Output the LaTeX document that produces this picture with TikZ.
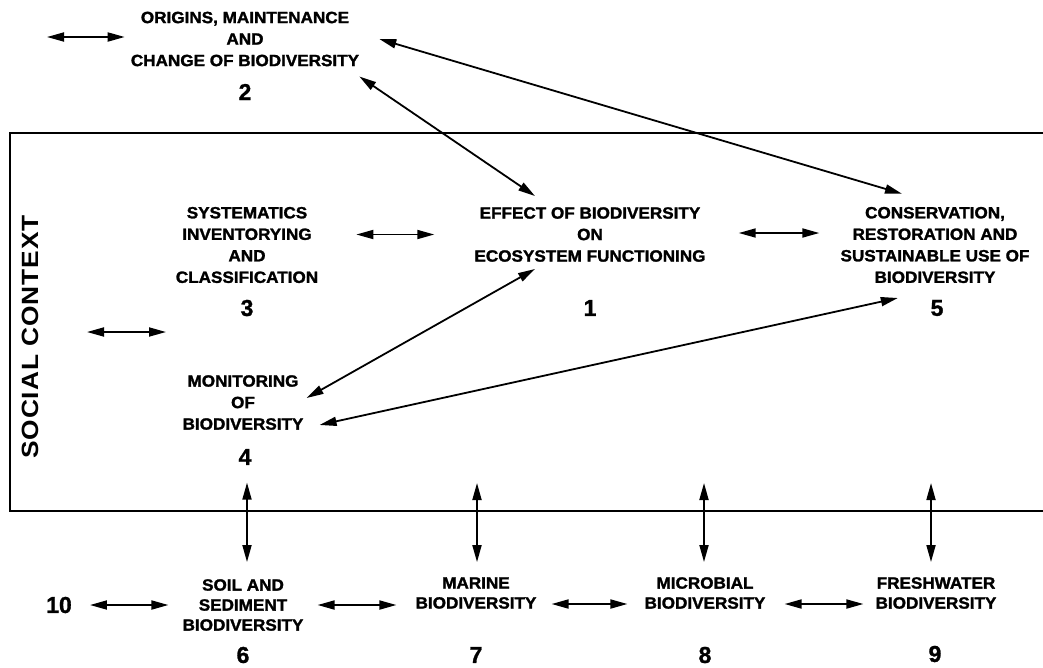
\documentclass[tikz,border=0pt]{standalone}
\usepackage{fontspec}
\usetikzlibrary{arrows.meta,calc}
% label faces: heavy, slightly widened grotesque; plain bold digits; wide side title
\newfontfamily\labelfamily[FakeStretch=1.05,FakeBold=1.6]{Liberation Sans Bold}
\newfontfamily\numfamily[FakeBold=1.2]{Liberation Sans Bold}
\newfontfamily\sidefamily[FakeStretch=1.12,LetterSpace=4]{Liberation Sans Bold}

\tikzset{
  lbl/.style={align=center, inner sep=0pt,
    font={\labelfamily\fontsize{16.3}{21.5}\selectfont}},
  lowlbl/.style={align=center, inner sep=0pt,
    font={\labelfamily\fontsize{16.3}{20}\selectfont}},
  num/.style={inner sep=0pt, font={\numfamily\fontsize{23}{23}\selectfont}},
  sidetitle/.style={inner sep=0pt, rotate=90,
    font={\sidefamily\fontsize{23.5}{23.5}\selectfont}},
  frame/.style={line width=2pt},
  link/.style={line width=1.8pt,
    {Triangle[length=17pt,width=9pt]}-{Triangle[length=17pt,width=9pt]}},
}

\begin{document}
\begin{tikzpicture}[x=1pt,y=-1pt]
\useasboundingbox (0,0) rectangle (1043,667);

% social context frame (open on the right)
\draw[frame] (1050,133) -- (10,133) -- (10,511) -- (1050,511);
\node[sidetitle] (social) at (30,337) {SOCIAL CONTEXT};

% research themes
\node[lbl] (t2) at (245,39) {ORIGINS, MAINTENANCE\\AND\\CHANGE OF BIODIVERSITY};
\node[num] (n2) at (245,92) {2};

\node[lbl] (t3) at (247,245) {SYSTEMATICS\\INVENTORYING\\AND\\CLASSIFICATION};
\node[num] (n3) at (247,308) {3};

\node[lbl] (t1) at (590,234.5) {EFFECT OF BIODIVERSITY\\ON\\ECOSYSTEM FUNCTIONING};
\node[num] (n1) at (590,308) {1};

\node[lbl] (t5) at (935,245) {CONSERVATION,\\RESTORATION AND\\SUSTAINABLE USE OF\\BIODIVERSITY};
\node[num] (n5) at (937,308) {5};

\node[lbl] (t4) at (243,402.5) {MONITORING\\OF\\BIODIVERSITY};
\node[num] (n4) at (245,457) {4};

% habitats
\node[num] (n10) at (59,605) {10};

\node[lowlbl] (t6) at (243,605) {SOIL AND\\SEDIMENT\\BIODIVERSITY};
\node[num] (n6) at (243,655) {6};

\node[lowlbl] (t7) at (476,593) {MARINE\\BIODIVERSITY};
\node[num] (n7) at (476,655) {7};

\node[lowlbl] (t8) at (705,593) {MICROBIAL\\BIODIVERSITY};
\node[num] (n8) at (705,655) {8};

\node[lowlbl] (t9) at (936,593) {FRESHWATER\\BIODIVERSITY};
\node[num] (n9) at (935,654) {9};

% free ends
\coordinate (ext2) at (47,37);
\coordinate (sc1) at (87,332);
\coordinate (sc2) at (166,332);
\coordinate (v7) at (477,483);
\coordinate (v8) at (704,483);
\coordinate (v9) at (931,483);

% links among the themes
\draw[link] (ext2) -- ($(t2.west)+(-6,-2)$);
\draw[link] (sc1) -- (sc2);
\draw[link] ($(t3.east |- t1.west)+(38,0)$) -- ($(t1.west)+(-40,0)$);
\draw[link] ($(t1.east)+(33,-1.5)$) -- ($(t5.west |- t1.east)+(-21,-1.5)$);
\draw[link] ($(t2.south east)+(0,10)$) -- ($(t1.north)+(-55,-11)$);
\draw[link] ($(t2.east)+(20,0)$) -- ($(t5.north)+(-33,-13)$);
\draw[link] ($(t1.south)+(-55,7)$) -- ($(t4.east)+(3,-4.5)$);
\draw[link] ($(t4.south east)+(16,-5)$) -- ($(n5.west)+(-32.6,-10)$);

% links across the frame
\draw[link] ($(n4.south)+(2,17.5)$) -- ($(t6.north)+(4,-17)$);
\draw[link] (v7) -- ($(t7.north)+(1,-15)$);
\draw[link] (v8) -- ($(t8.north)+(-1,-15)$);
\draw[link] (v9) -- ($(t9.north)+(-5,-15)$);

% links along the habitat row
\draw[link] ($(n10.east)+(18,0)$) -- ($(t6.west)+(-14,0)$);
\draw[link] ($(t6.east)+(14,0)$) -- ($(t7.west |- t6.east)+(-19,0)$);
\draw[link] ($(t7.east)+(15,11)$) -- ($(t8.west)+(-17,11)$);
\draw[link] ($(t8.east)+(19,11)$) -- ($(t9.west)+(-12,11)$);
\end{tikzpicture}
\end{document}
